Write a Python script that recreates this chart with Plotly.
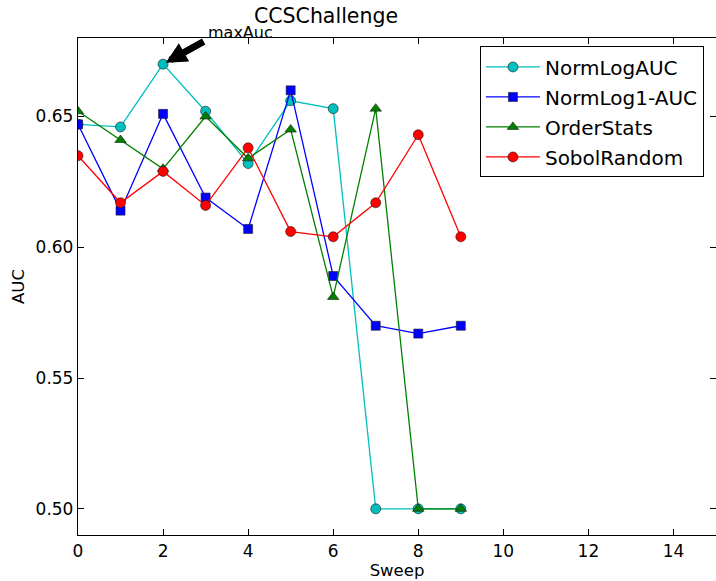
import plotly.graph_objects as go

sweep = [0, 1, 2, 3, 4, 5, 6, 7, 8, 9]
norm_log_auc = [0.647, 0.646, 0.670, 0.652, 0.632, 0.656, 0.653, 0.500, 0.500, 0.500]
norm_log1_auc = [0.647, 0.614, 0.651, 0.619, 0.607, 0.660, 0.589, 0.570, 0.567, 0.570]
order_stats = [0.652, 0.641, 0.630, 0.650, 0.634, 0.645, 0.581, 0.653, 0.500, 0.500]
sobol_random = [0.635, 0.617, 0.629, 0.616, 0.638, 0.606, 0.604, 0.617, 0.643, 0.604]
x_ticks = [0, 2, 4, 6, 8, 10, 12, 14]
y_ticks = [0.50, 0.55, 0.60, 0.65]

FONT = "DejaVu Sans"

series = [
    ("NormLogAUC", norm_log_auc, "#00BFBF", "circle", 10),
    ("NormLog1-AUC", norm_log1_auc, "#0000FF", "square", 9),
    ("OrderStats", order_stats, "#008000", "triangle-up", 10),
    ("SobolRandom", sobol_random, "#FF0000", "circle", 10),
]

fig = go.Figure()
for i, (name, vals, col, sym, sz) in enumerate(series):
    fig.add_trace(go.Scatter(
        x=sweep, y=vals, name=name, mode="lines+markers",
        legendgroup="g%d" % i,
        line=dict(color=col, width=1.3),
        marker=dict(symbol=sym, size=sz, color=col,
                    line=dict(color="#1a1a1a", width=0.6)),
    ))

axis_common = dict(
    showline=True, linecolor="black", linewidth=1.3, mirror="allticks",
    ticks="inside", ticklen=6, tickwidth=1, tickcolor="black",
    showgrid=False, zeroline=False,
    tickfont=dict(family=FONT, size=17, color="black"),
)

fig.update_layout(
    width=716, height=581,
    margin=dict(l=78, r=0, t=38, b=46),
    paper_bgcolor="white", plot_bgcolor="white",
    font=dict(family=FONT, color="black"),
    title=dict(text="CCSChallenge", x=326/716, xref="container", xanchor="center",
               y=1 - 16/581, yref="container", yanchor="middle",
               font=dict(family=FONT, size=20.5, color="black")),
    xaxis=dict(range=[0, 15], tickvals=x_ticks, ticktext=[str(t) for t in x_ticks],
               title=dict(text="Sweep", font=dict(family=FONT, size=16.5), standoff=2),
               **axis_common),
    yaxis=dict(range=[0.49, 0.68], tickvals=y_ticks,
               ticktext=["%.2f" % t for t in y_ticks],
               title=dict(text="AUC", font=dict(family=FONT, size=16.5), standoff=6),
               **axis_common),
    legend=dict(x=0.630, y=0.983, xanchor="left", yanchor="top",
                bordercolor="black", borderwidth=1, bgcolor="white",
                font=dict(family=FONT, size=20, color="black"),
                itemwidth=54, tracegroupgap=1),
    showlegend=True,
)

# arrow annotation
fig.add_annotation(x=2, y=0.670, ax=2.99, ay=0.679, xref="x", yref="y",
                   axref="x", ayref="y", text="", showarrow=True,
                   arrowhead=2, arrowsize=0.6, arrowwidth=7, arrowcolor="black",
                   standoff=3)
fig.add_annotation(x=3.0, y=(535 - 32.5) / 497, xref="x", yref="paper", text="maxAuc",
                   showarrow=False, xanchor="left", yanchor="middle",
                   font=dict(family=FONT, size=16, color="black"))

fig.write_html("out.html")
